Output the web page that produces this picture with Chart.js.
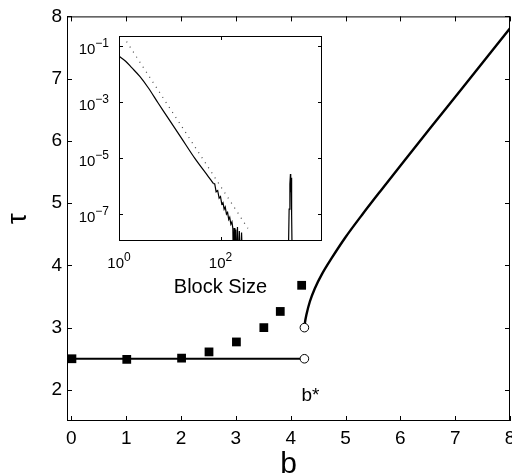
<!DOCTYPE html>
<html>
<head>
<meta charset="utf-8">
<script src="https://cdn.jsdelivr.net/npm/chart.js@4.4.1/dist/chart.umd.min.js"></script>
<style>
html, body { margin: 0; padding: 0; background: #fff; overflow: hidden; width: 512px; height: 476px; }
#main { position: absolute; left: 0; top: 0; width: 530px; height: 476px; }
#inset { position: absolute; left: 70px; top: 20px; width: 265px; height: 285px; }
</style>
</head>
<body>
<div id="main"><canvas id="mainChart"></canvas></div>
<div id="inset"><canvas id="insetChart"></canvas></div>
<script>
// main plot: tau against b
const lineB = [0, 4.25];
const lineTau = [2.5, 2.5];
const squareB = [0.01, 1.01, 2.01, 2.51, 3.01, 3.51, 3.81, 4.2];
const squareTau = [2.50, 2.49, 2.51, 2.61, 2.77, 3.00, 3.26, 3.68];
const curveB = [4.25, 4.26, 4.29, 4.35, 4.44, 4.57, 4.75, 4.99, 5.30, 5.66, 6.08, 6.55, 7.15, 8.0];
const curveTau = [3.0, 3.08, 3.22, 3.42, 3.63, 3.86, 4.12, 4.44, 4.81, 5.22, 5.69, 6.21, 6.87, 7.81];
const openB = [4.25, 4.25];
const openTau = [2.5, 3.0];
const bTicks = [0, 1, 2, 3, 4, 5, 6, 7, 8];
const tauTicks = [2, 3, 4, 5, 6, 7, 8];

// inset: block size distribution (log-log)
const headSize = [1, 1.35, 1.78, 2.57, 3.8, 5.9, 9.3, 17, 31, 57.5, 72];
const headProb = [0.0437, 0.029, 0.017, 0.0083, 0.0032, 9.3e-4, 2.7e-4, 5.2e-5, 1.0e-5, 2.2e-6, 1.26e-6];
const tailSize = [72, 77, 82, 88, 94, 100, 106, 112, 118, 124, 131, 138, 145, 152, 160, 168, 175, 180, 186,
  192, 200, 208, 216, 224, 235, 245, 260, 275, 1000, 2150, 2250, 2330, 2390, 2420, 2450, 2520, 2600];
const tailProb = [1.26e-6, 1.2e-6, 6.3e-7, 7.0e-7, 3.7e-7, 4.2e-7, 2.3e-7, 2.6e-7, 1.5e-7, 1.8e-7, 1.0e-7,
  1.15e-7, 6.5e-8, 7.8e-8, 4.4e-8, 5.3e-8, 3.1e-8, 1e-9, 3.2e-8, 1e-9, 2.8e-8, 1e-9, 3.5e-8, 1e-9, 2.5e-8,
  1e-9, 2.2e-8, 1e-9, null, 1e-9, 1.5e-7, 1.2e-6, 2.7e-6, 6e-7, 2.0e-6, 1.0e-7, 1e-9];
const fitSize = [1.41, 347];
const fitProb = [0.145, 3.1e-8];
const sizeTicks = [1, 100];
const sizeExp = ['0', '2'];
const probTicks = [1e-1, 1e-3, 1e-5, 1e-7];
const probExp = ['\u22121', '\u22123', '\u22125', '\u22127'];

const FONT = '"Liberation Sans", Arial, sans-serif';
const zip = (xs, ys) => xs.map((x, i) => ({ x: x, y: ys[i] }));

const mainFrame = {
  id: 'mainFrame',
  afterDraw(chart) {
    const { ctx, chartArea: a, scales: { x, y } } = chart;
    ctx.save();
    ctx.strokeStyle = '#000';
    ctx.lineWidth = 1;
    ctx.strokeRect(a.left + 0.5, a.top + 0.5, a.right - a.left - 1, a.bottom - a.top - 1);
    ctx.beginPath();
    bTicks.forEach(v => {
      const px = Math.round(x.getPixelForValue(v)) + 0.5;
      ctx.moveTo(px, a.bottom); ctx.lineTo(px, a.bottom - 5);
      ctx.moveTo(px, a.top); ctx.lineTo(px, a.top + 5);
    });
    tauTicks.forEach(v => {
      const py = Math.round(y.getPixelForValue(v)) + 0.5;
      ctx.moveTo(a.left, py); ctx.lineTo(a.left + 5, py);
      ctx.moveTo(a.right, py); ctx.lineTo(a.right - 5, py);
    });
    ctx.stroke();
    ctx.fillStyle = '#000';
    ctx.font = '19px ' + FONT;
    ctx.textBaseline = 'alphabetic';
    ctx.textAlign = 'left';
    ctx.fillText('b*', x.getPixelForValue(4.25) - 3, y.getPixelForValue(1.82));
    ctx.restore();
  }
};

new Chart(document.getElementById('mainChart'), {
  type: 'scatter',
  data: {
    datasets: [
      { data: zip(openB, openTau), showLine: false, pointStyle: 'circle', pointRadius: 4.3,
        pointBackgroundColor: '#fff', pointBorderColor: '#000', pointBorderWidth: 1, clip: false },
      { data: zip(squareB, squareTau), showLine: false, pointStyle: 'rect', pointRadius: 6.2,
        pointBackgroundColor: '#000', pointBorderColor: '#000', pointBorderWidth: 0, clip: false },
      { data: zip(lineB, lineTau), showLine: true, borderColor: '#000', borderWidth: 2, pointRadius: 0 },
      { data: zip(curveB, curveTau), showLine: true, borderColor: '#000', borderWidth: 2.4, pointRadius: 0,
        cubicInterpolationMode: 'monotone' }
    ]
  },
  options: {
    responsive: true,
    maintainAspectRatio: false,
    animation: false,
    layout: { padding: { top: 15, right: 20, left: 0, bottom: 0 }, autoPadding: false },
    plugins: { legend: { display: false }, tooltip: { enabled: false } },
    scales: {
      x: {
        type: 'linear', min: -0.08, max: 8,
        afterBuildTicks: s => { s.ticks = bTicks.map(v => ({ value: v })); },
        afterFit: s => { s.height = 55; },
        grid: { display: false, drawTicks: false },
        border: { display: false },
        ticks: { color: '#000', padding: 6, font: { family: FONT, size: 19 }, maxRotation: 0 },
        title: { display: true, text: 'b', color: '#000', font: { family: FONT, size: 30 }, padding: { top: 0, bottom: -7 } }
      },
      y: {
        type: 'linear', min: 1.5, max: 8,
        afterBuildTicks: s => { s.ticks = tauTicks.map(v => ({ value: v })); },
        afterFit: s => { s.width = 67; },
        grid: { display: false, drawTicks: false },
        border: { display: false },
        ticks: { color: '#000', padding: 5, font: { family: FONT, size: 19 } },
        title: { display: true, text: '\u03c4', color: '#000', font: { family: FONT, size: 27 }, padding: { top: 2, bottom: 0 } }
      }
    }
  },
  plugins: [mainFrame]
});

function drawPower(ctx, exp, x, y, align) {
  ctx.font = '15px ' + FONT;
  const w1 = ctx.measureText('10').width;
  ctx.font = '12px ' + FONT;
  const w2 = ctx.measureText(exp).width;
  const left = align === 'right' ? x - w1 - w2 : x - (w1 + w2) / 2;
  ctx.font = '15px ' + FONT;
  ctx.fillText('10', left, y);
  ctx.font = '12px ' + FONT;
  ctx.fillText(exp, left + w1, y - 7);
}

const insetFrame = {
  id: 'insetFrame',
  beforeDatasetsDraw(chart) {
    const { ctx, chartArea: a } = chart;
    ctx.save();
    ctx.fillStyle = '#fff';
    ctx.fillRect(a.left, a.top, a.right - a.left, a.bottom - a.top);
    ctx.restore();
  },
  afterDraw(chart) {
    const { ctx, chartArea: a, scales: { x, y } } = chart;
    ctx.save();
    ctx.strokeStyle = '#000';
    ctx.lineWidth = 1;
    ctx.strokeRect(a.left + 0.5, a.top + 0.5, a.right - a.left - 1, a.bottom - a.top - 1);
    ctx.beginPath();
    sizeTicks.forEach(v => {
      const px = Math.round(x.getPixelForValue(v)) + 0.5;
      ctx.moveTo(px, a.bottom); ctx.lineTo(px, a.bottom - 4);
      ctx.moveTo(px, a.top); ctx.lineTo(px, a.top + 4);
    });
    probTicks.forEach(v => {
      const py = Math.round(y.getPixelForValue(v)) + 0.5;
      ctx.moveTo(a.left, py); ctx.lineTo(a.left + 4, py);
      ctx.moveTo(a.right, py); ctx.lineTo(a.right - 4, py);
    });
    ctx.stroke();
    ctx.fillStyle = '#000';
    ctx.textBaseline = 'alphabetic';
    ctx.textAlign = 'left';
    sizeTicks.forEach((v, i) => drawPower(ctx, sizeExp[i], x.getPixelForValue(v), a.bottom + 27, 'center'));
    probTicks.forEach((v, i) => drawPower(ctx, probExp[i], a.left - 10, y.getPixelForValue(v) + 7.5, 'right'));
    ctx.font = '20px ' + FONT;
    ctx.textAlign = 'center';
    ctx.fillText('Block Size', (a.left + a.right) / 2, a.bottom + 52);
    ctx.restore();
  }
};

new Chart(document.getElementById('insetChart'), {
  type: 'scatter',
  data: {
    datasets: [
      { data: zip(headSize, headProb), showLine: true, borderColor: '#000', borderWidth: 1.2, pointRadius: 0,
        tension: 0.3 },
      { data: zip(tailSize, tailProb), showLine: true, spanGaps: false, borderColor: '#000', borderWidth: 1.2, pointRadius: 0 },
      { data: zip(fitSize, fitProb), showLine: true, borderColor: '#444', borderWidth: 1.2, borderDash: [1, 5], pointRadius: 0 }
    ]
  },
  options: {
    responsive: true,
    maintainAspectRatio: false,
    animation: false,
    layout: { padding: { left: 49, top: 16, right: 13, bottom: 64 }, autoPadding: false },
    plugins: { legend: { display: false }, tooltip: { enabled: false } },
    scales: {
      x: { type: 'logarithmic', min: 1, max: 10000, display: false },
      y: { type: 'logarithmic', min: 1.1e-8, max: 0.23, display: false }
    }
  },
  plugins: [insetFrame]
});
</script>
</body>
</html>
